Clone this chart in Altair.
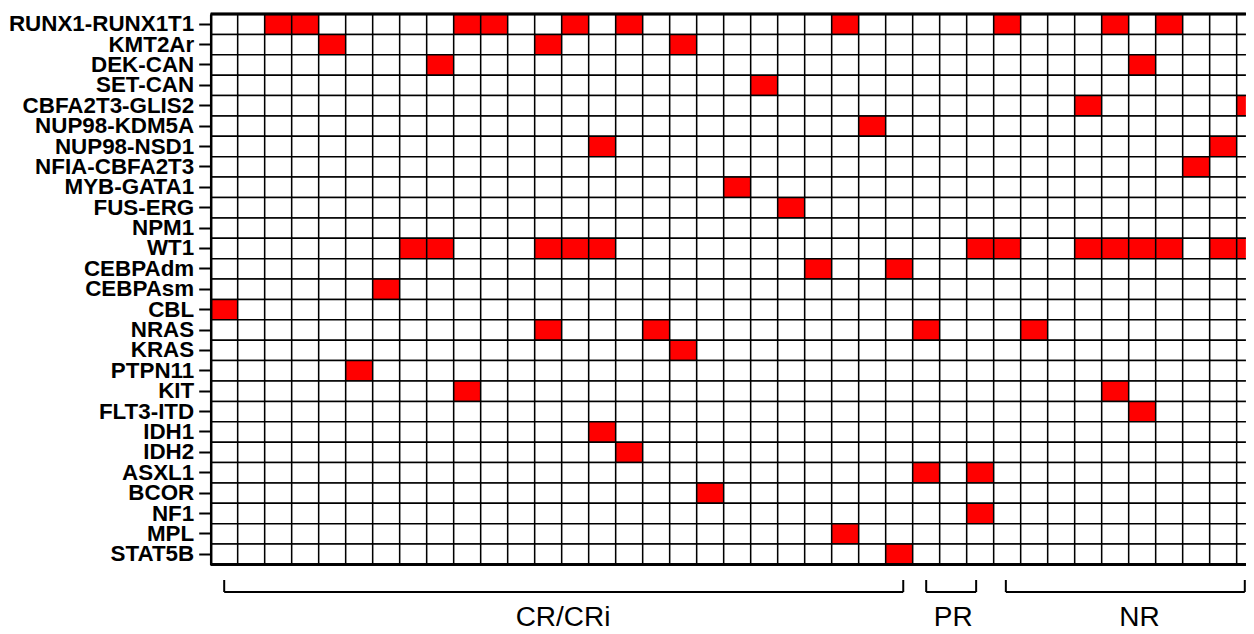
import altair as alt
import pandas as pd

# Genes (rows, top to bottom)
genes = ["RUNX1-RUNX1T1", "KMT2Ar", "DEK-CAN", "SET-CAN", "CBFA2T3-GLIS2",
         "NUP98-KDM5A", "NUP98-NSD1", "NFIA-CBFA2T3", "MYB-GATA1", "FUS-ERG",
         "NPM1", "WT1", "CEBPAdm", "CEBPAsm", "CBL", "NRAS", "KRAS", "PTPN11",
         "KIT", "FLT3-ITD", "IDH1", "IDH2", "ASXL1", "BCOR", "NF1", "MPL", "STAT5B"]

# Number of patients (columns); the last one is only partly visible
n_patients = 39
visible_patients = 38.34

# Mutated patient indices for each gene (same order as genes)
mutated = [
    [2, 3, 9, 10, 13, 15, 23, 29, 33, 35],          # RUNX1-RUNX1T1
    [4, 12, 17],                                    # KMT2Ar
    [8, 34],                                        # DEK-CAN
    [20],                                           # SET-CAN
    [32, 38],                                       # CBFA2T3-GLIS2
    [24],                                           # NUP98-KDM5A
    [14, 37],                                       # NUP98-NSD1
    [36],                                           # NFIA-CBFA2T3
    [19],                                           # MYB-GATA1
    [21],                                           # FUS-ERG
    [],                                             # NPM1
    [7, 8, 12, 13, 14, 28, 29, 32, 33, 34, 35, 37, 38],  # WT1
    [22, 25],                                       # CEBPAdm
    [6],                                            # CEBPAsm
    [0],                                            # CBL
    [12, 16, 26, 30],                               # NRAS
    [17],                                           # KRAS
    [5],                                            # PTPN11
    [9, 33],                                        # KIT
    [34],                                           # FLT3-ITD
    [14],                                           # IDH1
    [15],                                           # IDH2
    [26, 28],                                       # ASXL1
    [18],                                           # BCOR
    [28],                                           # NF1
    [23],                                           # MPL
    [25],                                           # STAT5B
]

# Response groups (bracket extents in patient units, label centres)
group_names = ["CR/CRi", "PR", "NR"]
bracket_start = [0.5, 26.5, 29.45]
bracket_end = [25.65, 28.35, 38.3]
group_label_pos = [13.05, 27.5, 34.4]

rows = []
for g, muts in zip(genes, mutated):
    for p in range(n_patients):
        rows.append({"gene": g, "p": p, "p1": p + 1, "mut": 1 if p in muts else 0})
cells = pd.DataFrame(rows)

groups = pd.DataFrame({
    "name": group_names,
    "x0": bracket_start,
    "x1": bracket_end,
    "lx": group_label_pos,
})

CELL_W = 27.0
W = visible_patients * CELL_W
H = 550.5

xscale = alt.Scale(domain=[0, visible_patients], nice=False, zero=False)

heat = alt.Chart(cells).mark_rect(stroke="black", strokeWidth=1.5, clip=True).encode(
    x=alt.X("p:Q", scale=xscale, axis=None),
    x2="p1:Q",
    y=alt.Y("gene:N", sort=genes,
            scale=alt.Scale(paddingInner=0, paddingOuter=0),
            axis=alt.Axis(title=None, labelFont="Liberation Sans", labelFontWeight="bold",
                          labelFontSize=22.4, labelColor="black", labelPadding=5,
                          labelLimit=0,
                          tickSize=12, tickWidth=2, tickColor="black",
                          domainColor="black", domainWidth=2.5)),
    color=alt.Color("mut:N", scale=alt.Scale(domain=[0, 1], range=["white", "#FF0000"]),
                    legend=None),
)

border_top = alt.Chart(groups).mark_rule(color="black", strokeWidth=2.5).encode(
    x=alt.value(0), x2=alt.value(W), y=alt.value(0),
)
border_bottom = alt.Chart(groups).mark_rule(color="black", strokeWidth=2.5).encode(
    x=alt.value(0), x2=alt.value(W), y=alt.value(H),
)

hline = alt.Chart(groups).mark_rule(color="black", strokeWidth=2).encode(
    x=alt.X("x0:Q", scale=xscale, axis=None),
    x2="x1:Q",
    y=alt.value(578),
)
vleft = alt.Chart(groups).mark_rule(color="black", strokeWidth=2).encode(
    x=alt.X("x0:Q", scale=xscale, axis=None),
    y=alt.value(566), y2=alt.value(578),
)
vright = alt.Chart(groups).mark_rule(color="black", strokeWidth=2).encode(
    x=alt.X("x1:Q", scale=xscale, axis=None),
    y=alt.value(566), y2=alt.value(578),
)
labels = alt.Chart(groups).mark_text(font="Liberation Sans", fontSize=28, color="black",
                                     align="center", baseline="alphabetic").encode(
    x=alt.X("lx:Q", scale=xscale, axis=None),
    y=alt.value(612),
    text="name:N",
)

chart = alt.layer(heat, border_top, border_bottom, hline, vleft, vright, labels).properties(
    width=W, height=H,
    autosize=alt.AutoSizeParams(type="none"),
    padding={"left": 202.7, "top": 6, "right": 0, "bottom": 61.5},
).configure_view(stroke=None)

chart.save("out.html", embed_options={"renderer": "svg", "actions": False})
